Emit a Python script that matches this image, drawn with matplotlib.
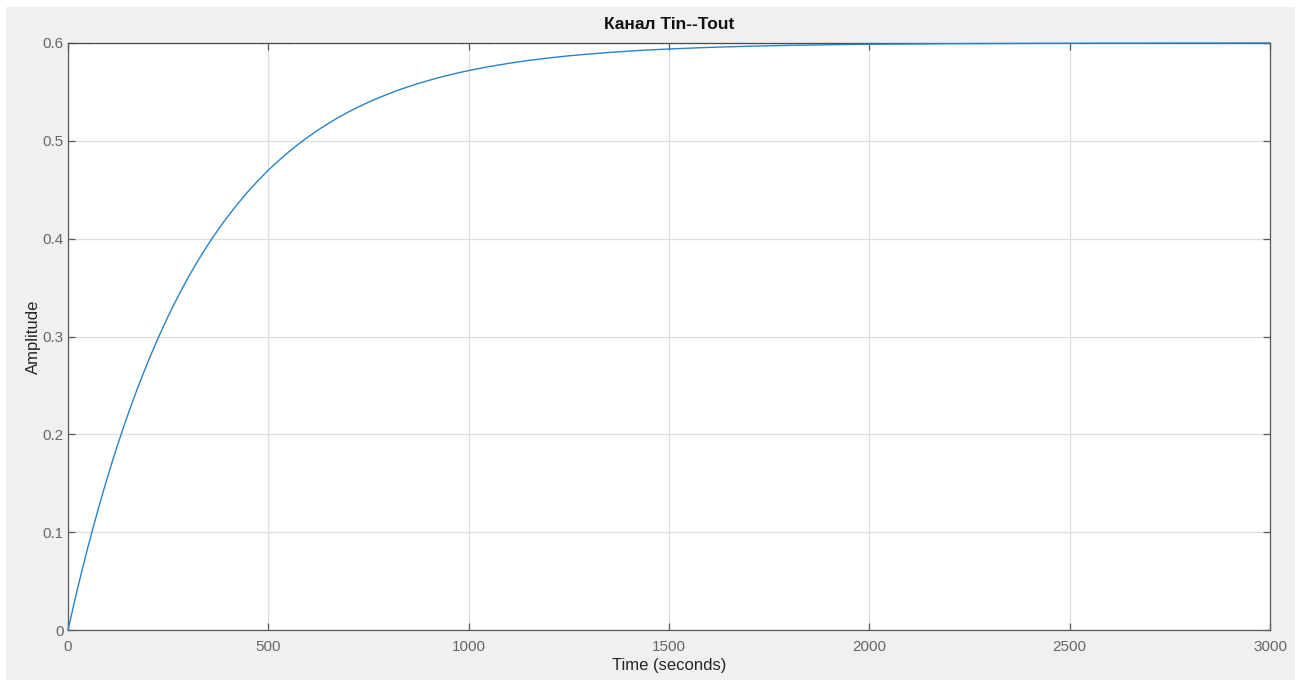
import matplotlib
matplotlib.use("Agg")
import matplotlib.pyplot as plt
from matplotlib.patches import Rectangle

# Step response
time_s = [0, 12.5, 25, 37.5, 50, 62.5, 75, 87.5, 100, 112.5, 125, 137.5, 150,
          162.5, 175, 187.5, 200, 212.5, 225, 237.5, 250, 262.5, 275, 287.5,
          300, 312.5, 325, 337.5, 350, 375, 400, 425, 450, 475, 500, 525, 550,
          575, 600, 625, 650, 675, 700, 725, 750, 775, 800, 825, 850, 875, 900,
          925, 950, 975, 1000, 1050, 1100, 1150, 1200, 1250, 1300, 1350, 1400,
          1450, 1500, 1600, 1700, 1800, 1900, 2000, 2200, 2400, 2600, 2800, 3000]
amplitude = [0.0, 0.0225, 0.0442, 0.0650, 0.0851, 0.1044, 0.1230, 0.1409,
             0.1581, 0.1747, 0.1906, 0.2060, 0.2207, 0.2350, 0.2487, 0.2618,
             0.2745, 0.2867, 0.2985, 0.3098, 0.3207, 0.3311, 0.3412, 0.3509,
             0.3603, 0.3693, 0.3779, 0.3862, 0.3943, 0.4094, 0.4234, 0.4364,
             0.4485, 0.4596, 0.4700, 0.4795, 0.4884, 0.4966, 0.5042, 0.5113,
             0.5178, 0.5239, 0.5295, 0.5347, 0.5395, 0.5439, 0.5480, 0.5519,
             0.5554, 0.5587, 0.5617, 0.5646, 0.5672, 0.5696, 0.5718, 0.5758,
             0.5792, 0.5822, 0.5847, 0.5869, 0.5887, 0.5903, 0.5917, 0.5929,
             0.5939, 0.5955, 0.5967, 0.5976, 0.5982, 0.5987, 0.5993, 0.5996,
             0.5998, 0.5999, 0.6000]
steady_state = 0.6
x_ticks = [0, 500, 1000, 1500, 2000, 2500, 3000]
y_ticks = [0, 0.1, 0.2, 0.3, 0.4, 0.5, 0.6]
y_tick_labels = ["0", "0.1", "0.2", "0.3", "0.4", "0.5", "0.6"]
title = "Канал Tin--Tout"
x_label = "Time (seconds)"
y_label = "Amplitude"

plt.rcParams['font.family'] = ['Liberation Sans', 'DejaVu Sans']

W, H = 1301, 681
fig = plt.figure(figsize=(W / 100, H / 100), dpi=100, facecolor="white")
fig.patches.append(Rectangle((6 / W, 1 - 680 / H), (1295 - 6) / W, (680 - 7) / H,
                             transform=fig.transFigure, facecolor="#f0f0f0",
                             edgecolor="none", zorder=-10))

ax = fig.add_axes([68 / W, 1 - 630 / H, (1270 - 68) / W, (630 - 43) / H])
ax.set_facecolor("white")

ax.axhline(steady_state, color="#333333", linestyle=(0, (1, 1.5)), lw=0.8,
           zorder=3, clip_on=False)
ax.plot(time_s, amplitude, color="#2683cc", lw=1.0, zorder=4, clip_on=False)

ax.set_xlim(0, 3000)
ax.set_ylim(0, 0.6)
ax.set_xticks(x_ticks)
ax.set_yticks(y_ticks)
ax.set_yticklabels(y_tick_labels)
ax.grid(True, color="#dedede", lw=0.9)
ax.set_axisbelow(True)

for s in ax.spines.values():
    s.set_color("#5a5a5a")
    s.set_linewidth(0.9)
ax.tick_params(direction="in", length=5, width=0.9, color="#5a5a5a",
               labelcolor="#666666", labelsize=11, top=True, right=True)
ax.tick_params(axis="x", pad=7)
ax.tick_params(axis="y", pad=3)

ax.set_title(title, fontsize=12.5, fontweight="bold", color="#111111", pad=10)
ax.set_xlabel(x_label, fontsize=12, color="#262626", labelpad=3)
ax.set_ylabel(y_label, fontsize=12, color="#262626", labelpad=1)

fig.savefig("out.png", dpi=100, facecolor=fig.get_facecolor())
